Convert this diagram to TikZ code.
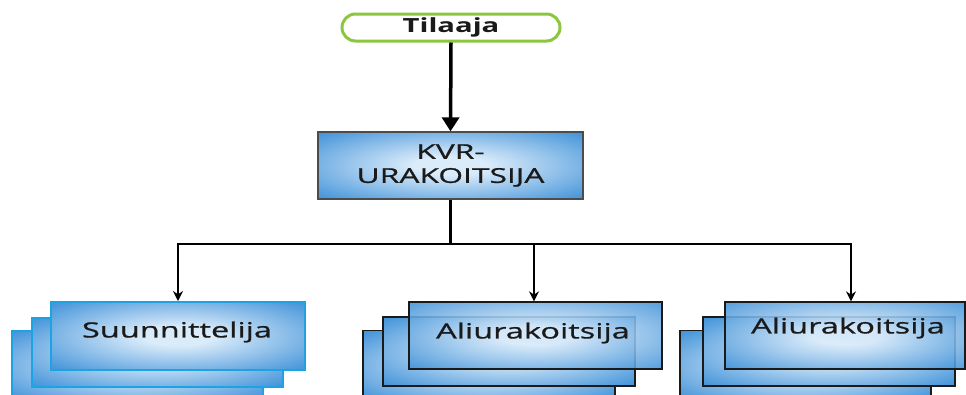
\documentclass[tikz,border=0pt]{standalone}
\usepackage{fontspec}
\setmainfont{Open Sans}
\newfontfamily\widesans[FakeStretch=1.55,FakeBold=0.8]{Open Sans}
\newfontfamily\widebold[FakeStretch=1.5]{Open Sans Bold}
\usetikzlibrary{arrows.meta}
\definecolor{glowc}{HTML}{DAEBFA}
\definecolor{midc}{HTML}{4796DA}
\definecolor{edgec}{HTML}{2A5A9E}
\definecolor{pillgreen}{HTML}{8CC63F}
\definecolor{cyanline}{HTML}{1DA2E2}
\definecolor{inkc}{HTML}{1A1A1A}
% soft glow in the middle of each box, darker towards the corners
\pgfdeclareradialshading{boxglow}{\pgfpoint{0bp}{0bp}}{color(0bp)=(glowc); color(7bp)=(glowc); color(34bp)=(midc); color(71bp)=(edgec)}
\begin{document}
\begin{tikzpicture}[x=1pt,y=-1pt,
  pill/.style={draw=pillgreen, line width=3pt, fill=white, rounded corners=13.5pt,
    minimum width=218pt, minimum height=27pt, inner sep=0pt,
    font=\widebold\fontsize{19.5}{22}\selectfont, text=inkc},
  bluebox/.style={shading=boxglow, inner sep=0pt, minimum width=#1},
  mainbox/.style={bluebox=265pt, minimum height=67pt, draw=black!70, line width=1.3pt,
    align=center, font=\widesans\fontsize{20.5}{24}\selectfont, text=inkc},
  cyanbox/.style={bluebox=#1, minimum height=69pt, draw=cyanline, line width=2pt},
  darkbox/.style={bluebox=#1, minimum height=69pt, draw=inkc, line width=1.3pt},
  glassbox/.style={darkbox=#1, fill opacity=0.88},
  boxlabel/.style={font=\widesans\fontsize{21}{24}\selectfont, text=inkc, inner sep=0pt},
  bigarrow/.style={line width=3.5pt, -{Triangle[length=14pt,width=17pt]}},
  thinarrow/.style={line width=2pt, -{Stealth[length=10pt,width=10pt]}}
]
\clip (0,0) rectangle (966,394);
\fill[white] (0,0) rectangle (966,394);

% top of the hierarchy
\node[pill] (tilaaja) at (451,27.5) {Tilaaja};
\node[mainbox] (kvr) at (450.5,165.5) {KVR-\\URAKOITSIJA};

% stacked boxes: designer
\node[cyanbox=251pt] (s3) at (137.5,365) {};
\node[cyanbox=251pt] (s2) at (157.5,352) {};
\node[cyanbox=254pt, minimum height=68pt] (s1) at (178,336) {};
\node[boxlabel] (s1t) at (177,332) {Suunnittelija};

% stacked boxes: first subcontractor
\node[darkbox=252pt] (a3) at (489,365) {};
\node[darkbox=252pt] (a2) at (509,351.5) {};
\node[glassbox=253pt, minimum height=67pt] (a1) at (535.5,335.5) {};
\node[boxlabel] (a1t) at (533,333) {Aliurakoitsija};

% stacked boxes: second subcontractor
\node[darkbox=251pt] (b3) at (805.5,365) {};
\node[darkbox=252pt] (b2) at (829,351.5) {};
\node[glassbox=240pt, minimum height=67pt] (b1) at (845,335.5) {};
\node[boxlabel] (b1t) at (848,328) {Aliurakoitsija};

% connectors
\draw[bigarrow] (tilaaja.south) -- (kvr.north);
\coordinate (barL) at (178,244);
\coordinate (barM) at (534,244);
\coordinate (barR) at (851,244);
\draw[line width=2.5pt] (kvr.south) -- (kvr.south |- barL);
\draw[line width=2.5pt] ([xshift=-1pt]barL) -- ([xshift=1pt]barR);
\draw[thinarrow] (barL) -- (barL |- s1.north);
\draw[thinarrow] (barM) -- (barM |- a1.north);
\draw[thinarrow] (barR) -- (barR |- b1.north);
\end{tikzpicture}
\end{document}
